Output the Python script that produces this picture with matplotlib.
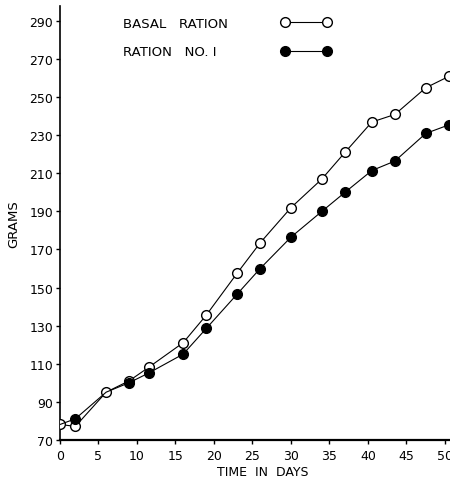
import matplotlib
matplotlib.use('Agg')
import matplotlib.pyplot as plt
from matplotlib.lines import Line2D

# values
days = [0, 2, 6, 9, 11.5, 16, 19, 23, 26, 30, 34, 37, 40.5, 43.5, 47.5, 50.5]
basal = [78, 77, 95, 101, 108, 121, 135.5, 157.5, 173.5, 192, 207, 221, 237, 241, 255, 261]
ration1 = [78, 81, 95, 100, 105, 115, 128.5, 146.5, 160, 176.5, 190, 200, 211.5, 216.5, 231, 235.5]
series_names = ['BASAL   RATION', 'RATION   NO. I']
y_ticks = list(range(70, 291, 20))
x_ticks = list(range(0, 51, 5))

plt.rcParams['font.family'] = ['DejaVu Sans']

W, H = 450, 481
fig = plt.figure(figsize=(W / 100, H / 100), dpi=100)
ax = fig.add_axes([60 / W, 1 - 440.7 / H, 1 - 60 / W, 433.7 / H])

# filled markers hidden where both series share a point (day 0 and 6)
filled_marks = [i for i in range(len(days)) if i not in (0, 2)]

open_style = dict(color='black', lw=0.8, marker='o', ms=7,
                  mfc='white', mec='black', mew=1.0)
filled_style = dict(color='black', lw=0.8, marker='o', ms=7,
                    mfc='black', mec='black')

ax.plot(days, basal, zorder=3, **open_style)
ax.plot(days, ration1, markevery=filled_marks, zorder=4, **filled_style)

ax.set_xlim(0, 50.65)
ax.set_ylim(70, 298)
ax.set_xticks(x_ticks)
ax.set_yticks(y_ticks)
ax.tick_params(axis='both', direction='out', length=3, width=1, labelsize=9)
ax.tick_params(axis='y', pad=2)
ax.tick_params(axis='x', pad=4)

ax.spines['top'].set_visible(False)
ax.spines['right'].set_visible(False)
ax.spines['left'].set_linewidth(1.2)
ax.spines['bottom'].set_linewidth(1.6)

ax.set_xlabel('TIME  IN  DAYS', fontsize=9)
ax.xaxis.set_label_coords((263 - 60) / 390, -25.5 / 433.7)
ax.set_ylabel('GRAMS', fontsize=9.5)
ax.yaxis.set_label_coords(-40 / 390, 0.5)

# legend: labels on the left, keys lined up on the right
handles = [Line2D([], [], **open_style), Line2D([], [], **filled_style)]
ax.legend(handles, ['', ''], loc='center left',
          bbox_to_anchor=(281 / W, 1 - 39 / H), bbox_transform=fig.transFigure,
          frameon=False, numpoints=2, handlelength=3.78, fontsize=9.5,
          borderpad=0, borderaxespad=0, handletextpad=0, labelspacing=1.21)
for name, ypix in zip(series_names, [24, 53]):
    fig.text(123 / W, 1 - ypix / H, name, fontsize=9.5, va='center', ha='left')

fig.savefig('out.png', dpi=100)
